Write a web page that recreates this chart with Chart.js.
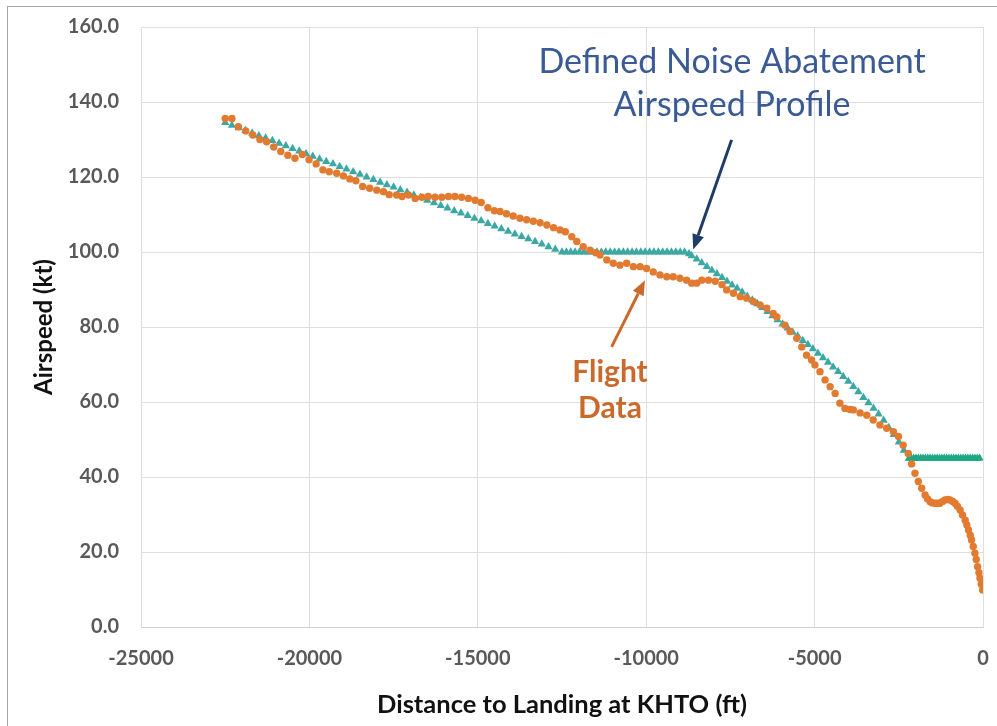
<!DOCTYPE html>
<html lang="en">
<head>
  <meta charset="UTF-8">
  <title>Airspeed vs Distance to Landing at KHTO</title>
  <script src="https://cdn.jsdelivr.net/npm/chart.js"></script>
  <style>
    body {
      margin: 0;
      padding: 0;
      overflow: hidden;
      background: #fff;
      font-family: Lato, sans-serif;
    }

    .frame {
      position: absolute;
      left: 7px;
      top: 6px;
      width: 1100px;
      height: 900px;
      border: 1.5px solid #a6a6a6;
      box-sizing: border-box;
    }

    .chart-wrapper {
      position: absolute;
      left: 0;
      top: 0;
      width: 997px;
      height: 726px;
    }
  </style>
</head>
<body>
  <div class="frame"></div>
  <div class="chart-wrapper"><canvas id="speedChart"></canvas></div>

  <script>
    // Defined noise abatement airspeed profile (ft, kt)
    const profileX = [
      -22500, -22300, -22100, -21900, -21700, -21500, -21300, -21100, -20900, -20700,
      -20500, -20300, -20100, -19900, -19700, -19500, -19300, -19100, -18900, -18700,
      -18500, -18300, -18100, -17900, -17700, -17500, -17300, -17100, -16900, -16700,
      -16500, -16300, -16100, -15900, -15700, -15500, -15300, -15100, -14900, -14700,
      -14500, -14300, -14100, -13900, -13700, -13500, -13300, -13100, -12900, -12700,
      -12500,
      -12370, -12240, -12110, -11980, -11850, -11720, -11590, -11460, -11330, -11200,
      -11070, -10940, -10810, -10680, -10550, -10420, -10290, -10160, -10030, -9900,
      -9770, -9640, -9510, -9380, -9250, -9120, -8990, -8860,
      -8730, -8650, -8500, -8350, -8200, -8050, -7900, -7750, -7600, -7450, -7300,
      -7150, -7000, -6850, -6700, -6550, -6400, -6250, -6100, -5950, -5800,
      -5650, -5500, -5350, -5200, -5050, -4900, -4750, -4600, -4450, -4300,
      -4150, -4000, -3850, -3700, -3550, -3400, -3250, -3100, -2950, -2800,
      -2650, -2500, -2350, -2200,
      -2130, -2060, -1990, -1920, -1850, -1780, -1710, -1640, -1570, -1500,
      -1430, -1360, -1290, -1220, -1150, -1080, -1010, -940, -870, -800,
      -730, -660, -590, -520, -450, -380, -310, -240, -170, -100
    ];
    const profileY = [
      134.5, 133.8, 133.1, 132.4, 131.7, 131.0, 130.4, 129.7, 129.0, 128.3,
      127.6, 126.9, 126.2, 125.5, 124.8, 124.1, 123.5, 122.8, 122.1, 121.4,
      120.7, 120.0, 119.3, 118.6, 117.9, 117.3, 116.6, 115.9, 115.2, 114.5,
      113.8, 113.1, 112.4, 111.7, 111.0, 110.4, 109.7, 109.0, 108.3, 107.6,
      106.9, 106.2, 105.5, 104.8, 104.1, 103.5, 102.8, 102.1, 101.4, 100.7,
      100.0,
      100, 100, 100, 100, 100, 100, 100, 100, 100, 100,
      100, 100, 100, 100, 100, 100, 100, 100, 100, 100,
      100, 100, 100, 100, 100, 100, 100, 100,
      99.5, 99.0, 98.1, 97.1, 96.1, 95.1, 94.2, 93.2, 92.2, 91.2, 90.3,
      89.3, 88.2, 87.2, 86.2, 85.2, 84.1, 83.0, 81.9, 80.8, 79.7,
      78.6, 77.6, 76.4, 75.3, 74.2, 73.0, 71.8, 70.6, 69.3, 68.1,
      66.8, 65.5, 64.1, 62.7, 61.2, 59.8, 58.3, 56.8, 55.1, 53.2,
      51.3, 49.3, 47.1, 45.0,
      45, 45, 45, 45, 45, 45, 45, 45, 45, 45,
      45, 45, 45, 45, 45, 45, 45, 45, 45, 45,
      45, 45, 45, 45, 45, 45, 45, 45, 45, 45
    ];

    // Recorded flight data (ft, kt)
    const flightX = [
      -22500, -22300, -22110, -21890, -21680, -21470, -21270, -21060, -20850, -20640,
      -20430, -20210, -20010, -19800, -19600, -19410, -19190, -18990, -18800, -18620,
      -18420, -18210, -18000, -17800, -17630, -17410, -17250, -17060, -16860, -16660,
      -16470, -16270, -16070, -15870, -15680, -15480, -15280, -15080, -14900, -14700,
      -14510, -14340, -14150, -13950, -13750, -13550, -13350, -13150, -12950, -12750,
      -12560, -12400, -12210, -12060, -11870, -11670, -11500, -11370, -11170, -10980,
      -10780, -10580, -10380, -10180, -9990, -9790, -9590, -9390, -9200, -9000,
      -8800, -8650, -8500, -8350, -8150, -7950, -7750, -7610, -7410, -7210,
      -7020, -6820, -6620, -6420, -6230, -6120, -5880, -5730, -5530, -5380,
      -5240, -5090, -4990, -4840, -4690, -4540, -4390, -4250, -4100, -3950,
      -3850, -3650, -3450, -3260, -3060, -2860, -2660, -2510, -2370, -2220,
      -2120, -2020, -1920, -1820, -1720, -1650, -1570, -1500, -1420, -1350,
      -1280, -1200, -1130, -1050, -980, -900, -830, -760, -680, -610,
      -530, -480, -430, -380, -340, -290, -240, -200, -160, -120,
      -90, -50, -10
    ];
    const flightY = [
      135.6, 135.6, 133.4, 132.3, 131.2, 130.0, 129.4, 128.0, 126.8, 125.8,
      125.0, 126.0, 124.6, 123.5, 121.9, 121.4, 121.0, 120.3, 119.5, 119.0,
      117.5, 117.0, 116.5, 116.1, 115.3, 115.2, 114.8, 115.2, 114.3, 114.6,
      114.8, 114.6, 114.6, 114.8, 114.8, 114.6, 114.3, 113.8, 113.2, 111.8,
      111.0, 110.8, 110.2, 109.6, 109.0, 108.6, 108.2, 107.8, 107.2, 106.5,
      105.9, 105.4, 104.1, 102.8, 101.4, 100.5, 99.8, 99.2, 97.9, 97.0,
      96.5, 97.0, 96.1, 96.1, 95.6, 94.7, 93.9, 93.4, 93.4, 93.0,
      92.5, 91.7, 91.7, 92.5, 92.5, 92.2, 91.3, 89.9, 89.0, 88.1,
      87.7, 86.8, 85.9, 85.0, 83.6, 82.7, 80.5, 78.8, 77.0, 74.7,
      72.5, 71.2, 69.9, 68.1, 65.9, 64.1, 62.3, 59.7, 58.3, 58.0,
      57.9, 57.1, 56.5, 55.2, 53.9, 53.0, 52.1, 50.8, 48.5, 46.3,
      43.5, 41.0, 38.8, 37.0, 35.2, 34.2, 33.4, 33.1, 33.0, 33.0,
      33.0, 33.5, 33.9, 34.0, 33.9, 33.5, 33.0, 32.2, 31.2, 29.9,
      28.5, 27.2, 25.9, 24.5, 23.2, 21.5, 19.7, 18.0, 16.1, 14.5,
      13.0, 11.4, 9.9
    ];

    // Annotation anchors in data units
    const profileLabel = ['Defined Noise Abatement', 'Airspeed Profile'];
    const profileLabelPos = { x: -7450, y: [150.6, 139.3] };
    const profileArrow = { from: [-7464, 129.9], to: [-8604, 100.7] };
    const flightLabel = ['Flight', 'Data'];
    const flightLabelPos = { x: -11075, y: [68.0, 58.4] };
    const flightArrow = { from: [-11027, 74.7], to: [-10036, 92.5] };

    const ORANGE = '#e27a30';
    const TEAL = '#3ca8a4';
    const GREEN = '#1fa883';
    const NAVY = '#1f3c66';
    const BLUE_TEXT = '#3a5a96';
    const ORANGE_TEXT = '#c96a2c';

    const toPoints = (xs, ys) => xs.map((x, i) => ({ x: x, y: ys[i] }));

    function drawArrow(ctx, x1, y1, x2, y2, color) {
      const ang = Math.atan2(y2 - y1, x2 - x1);
      const headLen = 15, headW = 6;
      const bx = x2 - headLen * Math.cos(ang);
      const by = y2 - headLen * Math.sin(ang);
      ctx.save();
      ctx.strokeStyle = color;
      ctx.fillStyle = color;
      ctx.lineWidth = 3;
      ctx.beginPath();
      ctx.moveTo(x1, y1);
      ctx.lineTo(bx, by);
      ctx.stroke();
      ctx.beginPath();
      ctx.moveTo(x2, y2);
      ctx.lineTo(bx + headW * Math.sin(ang), by - headW * Math.cos(ang));
      ctx.lineTo(bx - headW * Math.sin(ang), by + headW * Math.cos(ang));
      ctx.closePath();
      ctx.fill();
      ctx.restore();
    }

    const annotations = {
      id: 'annotations',
      afterDatasetsDraw(chart) {
        const { ctx, scales: { x, y } } = chart;
        ctx.save();
        ctx.textAlign = 'center';
        ctx.textBaseline = 'middle';

        ctx.font = '34px Lato';
        ctx.fillStyle = BLUE_TEXT;
        profileLabel.forEach((t, i) => {
          ctx.fillText(t, x.getPixelForValue(profileLabelPos.x), y.getPixelForValue(profileLabelPos.y[i]));
        });

        ctx.font = 'bold 30px Lato';
        ctx.fillStyle = ORANGE_TEXT;
        flightLabel.forEach((t, i) => {
          ctx.fillText(t, x.getPixelForValue(flightLabelPos.x), y.getPixelForValue(flightLabelPos.y[i]));
        });
        ctx.restore();

        drawArrow(ctx,
          x.getPixelForValue(profileArrow.from[0]), y.getPixelForValue(profileArrow.from[1]),
          x.getPixelForValue(profileArrow.to[0]), y.getPixelForValue(profileArrow.to[1]), NAVY);
        drawArrow(ctx,
          x.getPixelForValue(flightArrow.from[0]), y.getPixelForValue(flightArrow.from[1]),
          x.getPixelForValue(flightArrow.to[0]), y.getPixelForValue(flightArrow.to[1]), ORANGE_TEXT);
      }
    };

    Chart.defaults.font.family = 'Lato';

    const ctx = document.getElementById('speedChart').getContext('2d');
    new Chart(ctx, {
      type: 'scatter',
      data: {
        datasets: [
          {
            label: 'Flight Data',
            data: toPoints(flightX, flightY),
            pointStyle: 'circle',
            pointRadius: 3.7,
            pointBorderWidth: 0,
            backgroundColor: ORANGE,
            borderColor: ORANGE,
            order: 0
          },
          {
            label: 'Defined Noise Abatement Airspeed Profile',
            data: toPoints(profileX, profileY),
            pointStyle: 'triangle',
            pointRadius: 4.8,
            pointBorderWidth: 0,
            backgroundColor: c => (c.raw && c.raw.x > -2250 ? GREEN : TEAL),
            borderColor: c => (c.raw && c.raw.x > -2250 ? GREEN : TEAL),
            order: 1
          }
        ]
      },
      options: {
        responsive: true,
        maintainAspectRatio: false,
        animation: false,
        layout: { padding: { top: 27, right: 14, bottom: 0, left: 20 } },
        scales: {
          x: {
            type: 'linear',
            min: -25000,
            max: 0,
            afterFit: s => { s.height = 99; s.paddingRight = 0; s.paddingLeft = 0; },
            ticks: {
              stepSize: 5000,
              padding: 20,
              color: '#595959',
              font: { size: 20, weight: 'bold' },
              callback: v => String(v)
            },
            grid: { color: '#dedede', drawTicks: false },
            border: { color: '#d0d0d0' },
            title: {
              display: true,
              text: 'Distance to Landing at KHTO (ft)',
              color: '#111',
              font: { size: 25.5, weight: 'bold' },
              padding: { top: 0, bottom: 6 }
            }
          },
          y: {
            min: 0,
            max: 160,
            afterFit: s => { s.width = 121; s.paddingTop = 0; s.paddingBottom = 0; },
            ticks: {
              stepSize: 20,
              padding: 22,
              color: '#595959',
              font: { size: 20, weight: 'bold' },
              callback: v => v.toFixed(1)
            },
            grid: { color: '#dedede', drawTicks: false },
            border: { color: '#dedede' },
            title: {
              display: true,
              text: 'Airspeed (kt)',
              color: '#111',
              font: { size: 24, weight: 'bold' },
              padding: { top: 10, bottom: 0 }
            }
          }
        },
        plugins: {
          legend: { display: false },
          tooltip: { enabled: false }
        }
      },
      plugins: [annotations]
    });
  </script>
</body>
</html>
